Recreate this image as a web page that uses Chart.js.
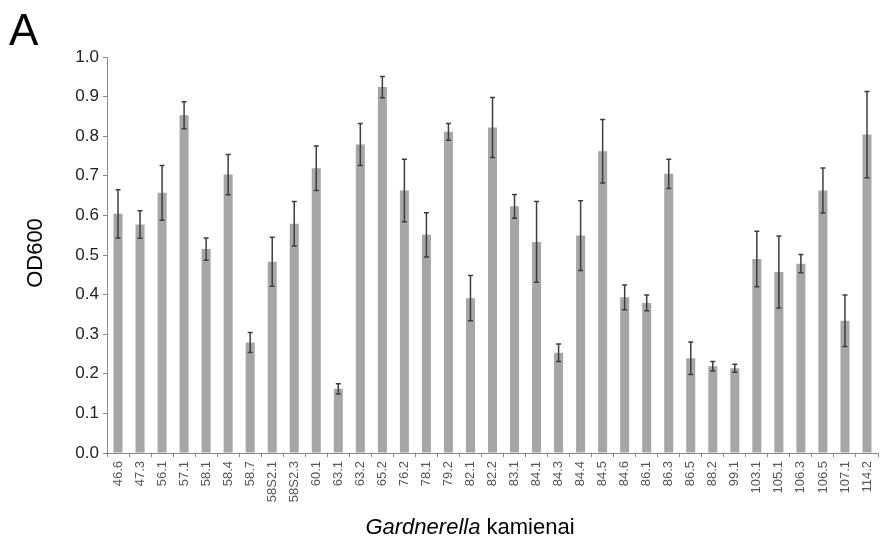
<!DOCTYPE html>
<html>
<head>
<meta charset="utf-8">
<script src="https://cdn.jsdelivr.net/npm/chart.js@4"></script>
<style>
    body { margin: 0; background: #fff; }
    #wrap { position: relative; width: 894px; height: 541px; }
    #odChart { position: absolute; left: 0; top: 0; }
    .panel { position: absolute; left: 9px; top: 5px; font: 44px "Liberation Sans", Arial, sans-serif; color: #000; }
    .ytitle { position: absolute; left: 35px; top: 253px; transform: translate(-50%, -50%) rotate(-90deg); font: 22px "Liberation Sans", Arial, sans-serif; color: #000; white-space: nowrap; }
    .xtitle { position: absolute; left: 470px; top: 527px; transform: translate(-50%, -50%); font: 22px "Liberation Sans", Arial, sans-serif; color: #000; white-space: nowrap; }
</style>
</head>
<body>
<div id="wrap">
    <canvas id="odChart" width="894" height="541"></canvas>
    <div class="panel">A</div>
    <div class="ytitle">OD600</div>
    <div class="xtitle"><i>Gardnerella</i> kamienai</div>
</div>
<script>
// strains (x axis)
const strains = ['46.6', '47.3', '56.1', '57.1', '58.1', '58.4', '58.7', '58S2.1', '58S2.3', '60.1',
    '63.1', '63.2', '65.2', '76.2', '78.1', '79.2', '82.1', '82.2', '83.1', '84.1',
    '84.3', '84.4', '84.5', '84.6', '86.1', '86.3', '86.5', '88.2', '99.1', '103.1',
    '105.1', '106.3', '106.5', '107.1', '114.2'];

// mean OD600
const od600 = [0.604, 0.577, 0.657, 0.853, 0.515, 0.703, 0.279, 0.483, 0.579, 0.719,
    0.162, 0.779, 0.924, 0.663, 0.551, 0.811, 0.391, 0.822, 0.623, 0.533,
    0.253, 0.549, 0.762, 0.393, 0.379, 0.705, 0.239, 0.219, 0.214, 0.490,
    0.457, 0.478, 0.663, 0.334, 0.804];

// error (+/-)
const od600Err = [0.061, 0.035, 0.069, 0.034, 0.028, 0.051, 0.025, 0.062, 0.056, 0.056,
    0.013, 0.053, 0.027, 0.079, 0.056, 0.021, 0.057, 0.076, 0.030, 0.102,
    0.022, 0.088, 0.080, 0.031, 0.020, 0.037, 0.041, 0.012, 0.010, 0.070,
    0.091, 0.023, 0.057, 0.065, 0.109];

const yTicks = [0, 0.1, 0.2, 0.3, 0.4, 0.5, 0.6, 0.7, 0.8, 0.9, 1.0];

// draws error bars from od600Err
const errorBars = {
    id: 'errorBars',
    afterDatasetsDraw(chart) {
        const ctx = chart.ctx;
        const y = chart.scales.y;
        const meta = chart.getDatasetMeta(0);
        ctx.save();
        ctx.strokeStyle = '#3d3d3d';
        ctx.lineWidth = 1.5;
        meta.data.forEach(function (bar, i) {
            const x = bar.x;
            const top = y.getPixelForValue(od600[i] + od600Err[i]);
            const bottom = y.getPixelForValue(od600[i] - od600Err[i]);
            ctx.beginPath();
            ctx.moveTo(x, top);
            ctx.lineTo(x, bottom);
            ctx.moveTo(x - 2.5, top);
            ctx.lineTo(x + 2.5, top);
            ctx.moveTo(x - 2.5, bottom);
            ctx.lineTo(x + 2.5, bottom);
            ctx.stroke();
        });
        ctx.restore();
    }
};

const ctx = document.getElementById('odChart').getContext('2d');

new Chart(ctx, {
    type: 'bar',
    data: {
        labels: strains,
        datasets: [{
            label: 'OD600',
            data: od600,
            backgroundColor: '#a6a6a6',
            borderWidth: 0,
            barPercentage: 0.41,
            categoryPercentage: 1.0
        }]
    },
    options: {
        responsive: false,
        animation: false,
        layout: {
            padding: { left: 0, top: 57, right: 16, bottom: 0 }
        },
        plugins: {
            legend: { display: false },
            tooltip: { enabled: false }
        },
        scales: {
            x: {
                grid: {
                    display: true,
                    offset: true,
                    drawOnChartArea: false,
                    drawTicks: true,
                    tickLength: 4,
                    color: '#888'
                },
                border: { color: '#888', width: 1 },
                ticks: {
                    autoSkip: false,
                    maxRotation: 90,
                    minRotation: 90,
                    padding: 4,
                    color: '#555',
                    font: { family: 'Liberation Sans', size: 13 }
                },
                afterFit: function (scale) { scale.height = 88; }
            },
            y: {
                min: 0,
                max: 1,
                afterBuildTicks: function (scale) {
                    scale.ticks = yTicks.map(v => ({ value: v }));
                },
                grid: {
                    drawOnChartArea: false,
                    drawTicks: true,
                    tickLength: 4,
                    color: '#888'
                },
                border: { color: '#888', width: 1 },
                ticks: {
                    padding: 4,
                    color: '#222',
                    font: { family: 'Liberation Sans', size: 17 },
                    callback: function (v) { return v.toFixed(1); }
                },
                afterFit: function (scale) { scale.width = 107; }
            }
        }
    },
    plugins: [errorBars]
});
</script>
</body>
</html>
